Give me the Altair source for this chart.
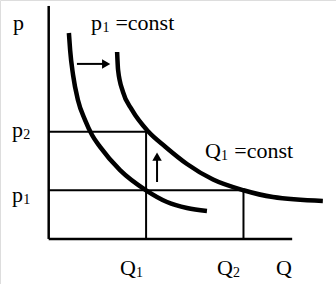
import altair as alt
import pandas as pd

# ---- values (Q units horizontally, p units vertically) ----
Q1, Q2 = 4.0, 8.0
p1, p2 = 2.0, 4.4
Q_AXIS_END = 10.0
P_AXIS_END = 9.57

# curve "p1 = const" (left) and shifted curve (right)
left_q = [0.83, 0.88, 1.0, 1.2, 1.49, 1.78, 2.11, 2.93, 4.0, 4.86, 5.68, 6.5]
left_p = [8.46, 7.76, 6.74, 5.71, 4.89, 4.27, 3.78, 2.83, 2.0, 1.52, 1.27, 1.15]
right_q = [2.81, 2.85, 3.05, 3.42, 4.1, 4.8, 5.68, 6.75, 8.0, 9.21, 11.26]
right_p = [7.68, 6.94, 6.04, 5.30, 4.4, 3.78, 3.08, 2.44, 2.0, 1.72, 1.56]

# text labels: main text, subscript, suffix
label_main = ["p", "p", "p", "p", "Q", "Q", "Q", "Q"]
label_sub = ["", "1", "2", "1", "1", "1", "2", ""]
label_tail = ["", "=const", "", "", "=const", "", "", ""]
label_x = [-1.47, 1.74, -1.51, -1.51, 6.42, 2.93, 6.91, 9.34]
label_y = [8.58, 8.58, 4.19, 1.52, 3.33, -1.48, -1.48, -1.48]

XS = alt.Scale(domain=[-2, 11.8], nice=False, zero=False)
YS = alt.Scale(domain=[-1.85, 9.815], nice=False, zero=False)
FONT = "Liberation Serif, Times New Roman, serif"
FS = 22
SUB_FS = 14

curves = pd.DataFrame(
    [{"curve": "a", "i": i, "x": q, "y": p} for i, (q, p) in enumerate(zip(left_q, left_p))]
    + [{"curve": "b", "i": i, "x": q, "y": p} for i, (q, p) in enumerate(zip(right_q, right_p))]
)

axes_df = pd.DataFrame([
    {"x": 0, "x2": 0, "y": 0, "y2": P_AXIS_END},
    {"x": 0, "x2": Q_AXIS_END, "y": 0, "y2": 0},
])
guides_df = pd.DataFrame([
    {"x": 0, "x2": Q1, "y": p2, "y2": p2},
    {"x": 0, "x2": Q2, "y": p1, "y2": p1},
    {"x": Q1, "x2": Q1, "y": 0, "y2": p2},
    {"x": Q2, "x2": Q2, "y": 0, "y2": p1},
])
# arrows: shaft + head
shafts_df = pd.DataFrame([
    {"x": 1.16, "x2": 2.3, "y": 7.19, "y2": 7.19},
    {"x": 4.45, "x2": 4.45, "y": 2.34, "y2": 3.3},
])
heads_df = pd.DataFrame([
    {"x": 2.36, "y": 7.19, "shape": "triangle-right"},
    {"x": 4.45, "y": 3.38, "shape": "triangle-up"},
])

labels = pd.DataFrame({
    "x": label_x, "y": label_y, "main": label_main, "sub": label_sub, "tail": label_tail,
})

X = alt.X("x:Q", scale=XS, axis=None)
Y = alt.Y("y:Q", scale=YS, axis=None)


def rules(df, width):
    return alt.Chart(df).mark_rule(color="black", strokeWidth=width).encode(
        x=X, x2="x2:Q", y=Y, y2="y2:Q",
    )


curve_layer = alt.Chart(curves).mark_line(
    color="black", strokeWidth=4.5, interpolate="monotone", strokeCap="butt"
).encode(x=X, y=Y, detail="curve:N", order="i:Q")

head_layer = alt.Chart(heads_df).mark_point(
    filled=True, color="black", size=90, opacity=1
).encode(x=X, y=Y, shape=alt.Shape("shape:N", scale=None))

main_text = alt.Chart(labels).mark_text(
    font=FONT, fontSize=FS, align="left", baseline="alphabetic", color="black"
).encode(x=X, y=Y, text="main:N")

sub_text = alt.Chart(labels).transform_filter("datum.sub != ''").transform_calculate(
    xs="datum.x + (datum.main == 'Q' ? 0.66 : 0.47)"
).mark_text(
    font=FONT, fontSize=SUB_FS, align="left", baseline="alphabetic", color="black", dy=2,
).encode(x=alt.X("xs:Q", scale=XS, axis=None), y=Y, text="sub:N")

tail_text = alt.Chart(labels).transform_filter("datum.tail != ''").transform_calculate(
    xt="datum.x + (datum.main == 'Q' ? 1.2 : 1.0)"
).mark_text(
    font=FONT, fontSize=FS, align="left", baseline="alphabetic", color="black",
).encode(x=alt.X("xt:Q", scale=XS, axis=None), y=Y, text="tail:N")

chart = alt.layer(
    rules(axes_df, 2.5),
    rules(guides_df, 2),
    curve_layer,
    rules(shafts_df, 2),
    head_layer,
    main_text,
    sub_text,
    tail_text,
).properties(
    width=336, height=284, padding=0, autosize=alt.AutoSizeParams(type="none")
).configure_view(stroke=None).configure(background="white")

chart.save("out.html", embed_options={"renderer": "svg", "actions": False})
